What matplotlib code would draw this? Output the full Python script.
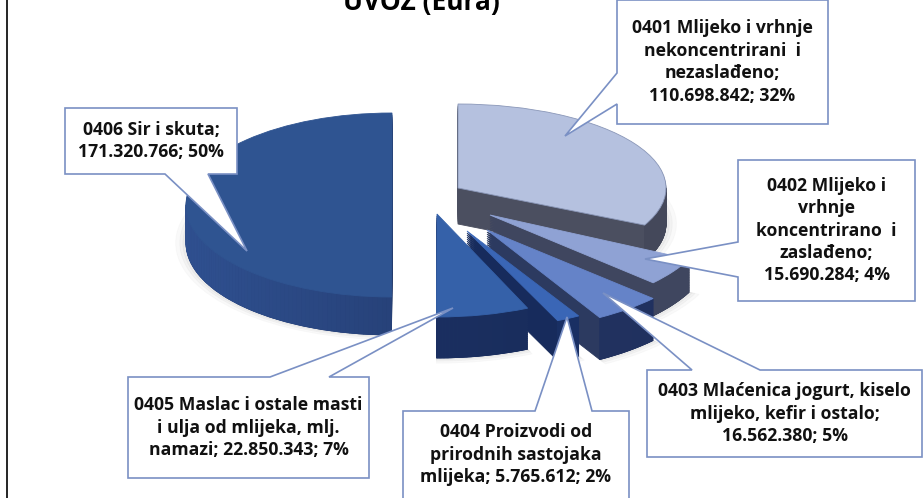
import matplotlib
matplotlib.use("Agg")
import matplotlib.pyplot as plt
import numpy as np
from matplotlib.collections import PolyCollection
from matplotlib.colors import to_rgb
from matplotlib.patches import Polygon
from matplotlib.transforms import Affine2D

# podaci
codes = ["0401", "0402", "0403", "0404", "0405", "0406"]
values = [110698842, 15690284, 16562380, 5765612, 22850343, 171320766]
labels = [
    "0401 Mlijeko i vrhnje\nnekoncentrirani  i\nnezaslađeno;\n110.698.842; 32%",
    "0402 Mlijeko i\nvrhnje\nkoncentrirano  i\nzaslađeno;\n15.690.284; 4%",
    "0403 Mlaćenica jogurt, kiselo\nmlijeko, kefir i ostalo;\n16.562.380; 5%",
    "0404 Proizvodi od\nprirodnih sastojaka\nmlijeka; 5.765.612; 2%",
    "0405 Maslac i ostale masti\ni ulja od mlijeka, mlj.\nnamazi; 22.850.343; 7%",
    "0406 Sir i skuta;\n171.320.766; 50%",
]
title = "UVOZ (Eura)"

# izgled kriski (u pikselima slike)
top_colors = ["#b5c1df", "#8fa2d4", "#6583c8", "#3a66b6", "#3561a9", "#2f5491"]
top_edges = ["#8a97b8", "#8fa2d4", "#6583c8", "#3a66b6", "#3561a9", "#2f5491"]
wall_colors = ["#4b4f60", "#3f465f", "#2c3a60", "#172b5c", "#1a2e60", "#22396b"]
wall_left = ["#4b4f60", "#3f465f", "#2c3a60", "#172b5c", "#1c3468", "#2f5090"]
wall_right = ["#44485a", "#3f465f", "#1e2f5f", "#1a3066", "#182a58", "#1f3463"]
centres = [(458, 188), (490, 215), (487, 230), (467, 231), (437, 214), (392, 205)]
radii = [(208, 84), (222, 100), (226, 101), (224, 98), (224, 103), (206, 92)]
depths = [36, 33, 42, 40, 41, 38]
draw_order = [5, 0, 1, 2, 3, 4]

# oblacici: okvir, pa rep (pocetak, vrh, kraj)
boxes = [(617, 0, 828, 124), (738, 160, 915, 301), (647, 370, 922, 457),
         (403, 411, 629, 505), (128, 377, 369, 478), (65, 108, 237, 174)]
tails = [((617, 73), (565, 136), (617, 104)),
         ((738, 242), (645, 259), (738, 277)),
         ((760, 370), (603, 293), (692, 370)),
         ((592, 411), (567, 317), (535, 411)),
         ((329, 377), (453, 308), (270, 377)),
         ((208, 174), (247, 251), (165, 174))]

plt.rcParams["font.family"] = ["Open Sans", "DejaVu Sans"]

fig = plt.figure(figsize=(9.24, 4.98), dpi=100)
ax = fig.add_axes([0, 0, 1, 1])


def draw_layer(colors, edges, offset, zbase, scale=1.0, alpha=None):
    wedges, _ = ax.pie(values, colors=colors, startangle=90, counterclock=False,
                       radius=1.0)
    for i, w in enumerate(wedges):
        cx, cy = centres[i]
        rx, ry = radii[i]
        d = depths[i] * offset
        w.set_transform(Affine2D().scale(rx * scale, -ry * scale).translate(cx, cy + d) + ax.transData)
        w.set_zorder(draw_order.index(i) + zbase)
        w.set_edgecolor(edges[i])
        w.set_linewidth(0.6)
        if alpha is not None:
            w.set_alpha(alpha)


def draw_arc_wall(i, start, end):
    # vanjska stijena kriske, tamni se slijeva nadesno
    cx, cy = centres[i]
    rx, ry = radii[i]
    # samo dio luka koji gleda prema dolje
    lo, hi = max(start, 90), min(end, 270)
    if hi <= lo:
        return
    angles = np.radians(np.linspace(lo, hi, 70))
    xs = cx + rx * np.sin(angles)
    ys = cy - ry * np.cos(angles)
    quads, shades = [], []
    left, right = np.array(to_rgb(wall_left[i])), np.array(to_rgb(wall_right[i]))
    for j in range(len(angles) - 1):
        quads.append([(xs[j], ys[j]), (xs[j + 1], ys[j + 1]),
                      (xs[j + 1], ys[j + 1] + depths[i]), (xs[j], ys[j] + depths[i])])
        t = np.clip((cx + rx - xs[j]) / (2 * rx), 0, 1)
        shades.append(left + (right - left) * (1 - t))
    ax.add_collection(PolyCollection(quads, facecolors=shades, edgecolors=shades,
                                     linewidths=0.5, zorder=draw_order.index(i) + 0.8))


# meka sjena ispod kriski
grey = ["#7f7f7f"] * 6
for grow, a in [(1.05, 0.04), (1.03, 0.05), (1.015, 0.06)]:
    draw_layer(grey, grey, 1.0, -10, scale=grow, alpha=a)

# bocne stijene pa gornja ploha
for step in range(20, 0, -1):
    draw_layer(wall_colors, wall_colors, step / 20, 0.1 + (20 - step) * 0.01)

bounds = np.concatenate([[0], np.cumsum(values)]) / sum(values) * 360
for i in range(len(values)):
    draw_arc_wall(i, bounds[i], bounds[i + 1])

draw_layer(top_colors, top_edges, 0, 0.9)

ax.set_aspect("auto")
ax.set_xlim(0, 924)
ax.set_ylim(498, 0)
ax.axis("off")

for box, tail, text in zip(boxes, tails, labels):
    x0, y0, x1, y1 = box
    a, tip, b = tail
    if a[1] == y0:  # rep na gornjoj stranici
        outline = [(x0, y0), (b[0], y0), tip, (a[0], y0), (x1, y0), (x1, y1), (x0, y1)]
    elif a[1] == y1:  # rep na donjoj stranici
        outline = [(x0, y0), (x1, y0), (x1, y1), a, tip, b, (x0, y1)]
    else:  # rep na lijevoj stranici
        outline = [(x0, y0), (x1, y0), (x1, y1), (x0, y1), b, tip, a]
    ax.add_patch(Polygon(outline, closed=True, facecolor="white", edgecolor="#7a90c4",
                         linewidth=1.2, zorder=20))
    ax.text((x0 + x1) / 2, (y0 + min(y1, 498)) / 2, text, ha="center", va="center",
            fontsize=12.7, fontweight="bold", color="#111111", linespacing=1.32, zorder=21)

ax.text(421, 10, title, ha="center", va="baseline", fontsize=19, fontweight="bold",
        color="black", zorder=21)

# crni okvir slike
ax.plot([7, 7], [0, 498], color="black", lw=1.2, zorder=22)

fig.savefig("out.png", dpi=100, facecolor="white")
